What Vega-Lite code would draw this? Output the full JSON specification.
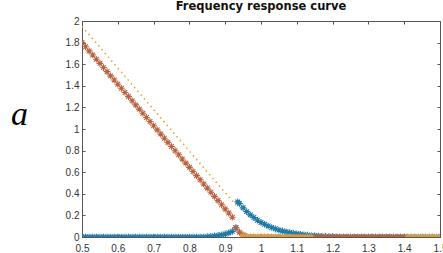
{
  "$schema": "https://vega.github.io/schema/vega-lite/v6.json",
  "autosize": "none",
  "padding": {"left": 82, "top": 21, "right": 3, "bottom": 16},
  "width": 358,
  "height": 216,
  "background": "white",
  "title": {"text": "Frequency response curve", "font": "DejaVu Sans", "fontSize": 11.5, "fontWeight": "bold", "color": "#111", "offset": 4, "anchor": "middle"},
  "config": {
    "view": {"stroke": "#555", "strokeWidth": 1},
    "axis": {"grid": false, "labelFont": "Liberation Sans", "labelFontSize": 10, "labelColor": "#333", "domainColor": "#555", "tickColor": "#555", "tickSize": -3, "labelPadding": 6, "titleFont": "Liberation Serif"}
  },
  "datasets": {
    "pts": [
      {"s":"B","x":0.50,"y":0},{"s":"B","x":0.51,"y":0},{"s":"B","x":0.52,"y":0},{"s":"B","x":0.53,"y":0},{"s":"B","x":0.54,"y":0},{"s":"B","x":0.55,"y":0},{"s":"B","x":0.56,"y":0},{"s":"B","x":0.57,"y":0},{"s":"B","x":0.58,"y":0},{"s":"B","x":0.59,"y":0},
      {"s":"B","x":0.60,"y":0},{"s":"B","x":0.61,"y":0},{"s":"B","x":0.62,"y":0},{"s":"B","x":0.63,"y":0},{"s":"B","x":0.64,"y":0},{"s":"B","x":0.65,"y":0},{"s":"B","x":0.66,"y":0},{"s":"B","x":0.67,"y":0},{"s":"B","x":0.68,"y":0},{"s":"B","x":0.69,"y":0},
      {"s":"B","x":0.70,"y":0},{"s":"B","x":0.71,"y":0},{"s":"B","x":0.72,"y":0},{"s":"B","x":0.73,"y":0},{"s":"B","x":0.74,"y":0},{"s":"B","x":0.75,"y":0},{"s":"B","x":0.76,"y":0},{"s":"B","x":0.77,"y":0},{"s":"B","x":0.78,"y":0},{"s":"B","x":0.79,"y":0},
      {"s":"B","x":0.80,"y":0},{"s":"B","x":0.81,"y":0},{"s":"B","x":0.82,"y":0},{"s":"B","x":0.83,"y":0},{"s":"B","x":0.84,"y":0},{"s":"B","x":0.85,"y":0.003},{"s":"B","x":0.86,"y":0.006},{"s":"B","x":0.87,"y":0.01},{"s":"B","x":0.88,"y":0.015},{"s":"B","x":0.89,"y":0.02},
      {"s":"B","x":0.90,"y":0.028},{"s":"B","x":0.91,"y":0.038},{"s":"B","x":0.92,"y":0.052},{"s":"B","x":0.93,"y":0.085},{"s":"B","x":0.935,"y":0.325},{"s":"B","x":0.94,"y":0.31},{"s":"B","x":0.95,"y":0.27},{"s":"B","x":0.96,"y":0.235},{"s":"B","x":0.97,"y":0.205},{"s":"B","x":0.98,"y":0.18},{"s":"B","x":0.99,"y":0.155},
      {"s":"B","x":1.00,"y":0.135},{"s":"B","x":1.01,"y":0.118},{"s":"B","x":1.02,"y":0.102},{"s":"B","x":1.03,"y":0.088},{"s":"B","x":1.04,"y":0.076},{"s":"B","x":1.05,"y":0.065},{"s":"B","x":1.06,"y":0.056},{"s":"B","x":1.07,"y":0.048},{"s":"B","x":1.08,"y":0.041},{"s":"B","x":1.09,"y":0.035},
      {"s":"B","x":1.10,"y":0.03},{"s":"B","x":1.11,"y":0.025},{"s":"B","x":1.12,"y":0.021},{"s":"B","x":1.13,"y":0.017},{"s":"B","x":1.14,"y":0.014},{"s":"B","x":1.15,"y":0.011},{"s":"B","x":1.16,"y":0.009},{"s":"B","x":1.17,"y":0.007},{"s":"B","x":1.18,"y":0.005},{"s":"B","x":1.19,"y":0.004},
      {"s":"B","x":1.20,"y":0.003},{"s":"B","x":1.21,"y":0},{"s":"B","x":1.22,"y":0},{"s":"B","x":1.23,"y":0},{"s":"B","x":1.24,"y":0},{"s":"B","x":1.25,"y":0},{"s":"B","x":1.26,"y":0},{"s":"B","x":1.27,"y":0},{"s":"B","x":1.28,"y":0},{"s":"B","x":1.29,"y":0},
      {"s":"B","x":1.30,"y":0},{"s":"B","x":1.31,"y":0},{"s":"B","x":1.32,"y":0},{"s":"B","x":1.33,"y":0},{"s":"B","x":1.34,"y":0},{"s":"B","x":1.35,"y":0},{"s":"B","x":1.36,"y":0},{"s":"B","x":1.37,"y":0},{"s":"B","x":1.38,"y":0},{"s":"B","x":1.39,"y":0},
      {"s":"B","x":1.40,"y":0},{"s":"B","x":1.41,"y":0},{"s":"B","x":1.42,"y":0},{"s":"B","x":1.43,"y":0},{"s":"B","x":1.44,"y":0},{"s":"B","x":1.45,"y":0},{"s":"B","x":1.46,"y":0},{"s":"B","x":1.47,"y":0},{"s":"B","x":1.48,"y":0},{"s":"B","x":1.49,"y":0},{"s":"B","x":1.50,"y":0},

      {"s":"O","x":0.50,"y":1.800},{"s":"O","x":0.51,"y":1.762},{"s":"O","x":0.52,"y":1.723},{"s":"O","x":0.53,"y":1.685},{"s":"O","x":0.54,"y":1.646},{"s":"O","x":0.55,"y":1.608},{"s":"O","x":0.56,"y":1.569},{"s":"O","x":0.57,"y":1.531},{"s":"O","x":0.58,"y":1.492},{"s":"O","x":0.59,"y":1.454},
      {"s":"O","x":0.60,"y":1.415},{"s":"O","x":0.61,"y":1.377},{"s":"O","x":0.62,"y":1.338},{"s":"O","x":0.63,"y":1.300},{"s":"O","x":0.64,"y":1.261},{"s":"O","x":0.65,"y":1.223},{"s":"O","x":0.66,"y":1.184},{"s":"O","x":0.67,"y":1.146},{"s":"O","x":0.68,"y":1.107},{"s":"O","x":0.69,"y":1.069},
      {"s":"O","x":0.70,"y":1.030},{"s":"O","x":0.71,"y":0.992},{"s":"O","x":0.72,"y":0.953},{"s":"O","x":0.73,"y":0.915},{"s":"O","x":0.74,"y":0.876},{"s":"O","x":0.75,"y":0.838},{"s":"O","x":0.76,"y":0.799},{"s":"O","x":0.77,"y":0.761},{"s":"O","x":0.78,"y":0.722},{"s":"O","x":0.79,"y":0.684},
      {"s":"O","x":0.80,"y":0.645},{"s":"O","x":0.81,"y":0.607},{"s":"O","x":0.82,"y":0.568},{"s":"O","x":0.83,"y":0.530},{"s":"O","x":0.84,"y":0.491},{"s":"O","x":0.85,"y":0.453},{"s":"O","x":0.86,"y":0.414},{"s":"O","x":0.87,"y":0.376},{"s":"O","x":0.88,"y":0.337},{"s":"O","x":0.89,"y":0.299},
      {"s":"O","x":0.90,"y":0.260},{"s":"O","x":0.91,"y":0.222},{"s":"O","x":0.92,"y":0.183},{"s":"O","x":0.93,"y":0.085},{"s":"O","x":0.94,"y":0.045},{"s":"O","x":0.95,"y":0.02},{"s":"O","x":0.96,"y":0.005},{"s":"O","x":0.97,"y":0},{"s":"O","x":0.98,"y":0},{"s":"O","x":0.99,"y":0},
      {"s":"O","x":1.00,"y":0},{"s":"O","x":1.01,"y":0},{"s":"O","x":1.02,"y":0},{"s":"O","x":1.03,"y":0},{"s":"O","x":1.04,"y":0},{"s":"O","x":1.05,"y":0},{"s":"O","x":1.06,"y":0},{"s":"O","x":1.07,"y":0},{"s":"O","x":1.08,"y":0},{"s":"O","x":1.09,"y":0},
      {"s":"O","x":1.10,"y":0},{"s":"O","x":1.11,"y":0},{"s":"O","x":1.12,"y":0},{"s":"O","x":1.13,"y":0},{"s":"O","x":1.14,"y":0},{"s":"O","x":1.15,"y":0},{"s":"O","x":1.16,"y":0},{"s":"O","x":1.17,"y":0},{"s":"O","x":1.18,"y":0},{"s":"O","x":1.19,"y":0},
      {"s":"O","x":1.20,"y":0},{"s":"O","x":1.21,"y":0},{"s":"O","x":1.22,"y":0},{"s":"O","x":1.23,"y":0},{"s":"O","x":1.24,"y":0},{"s":"O","x":1.25,"y":0},{"s":"O","x":1.26,"y":0},{"s":"O","x":1.27,"y":0},{"s":"O","x":1.28,"y":0},{"s":"O","x":1.29,"y":0},
      {"s":"O","x":1.30,"y":0},{"s":"O","x":1.31,"y":0},{"s":"O","x":1.32,"y":0},{"s":"O","x":1.33,"y":0},{"s":"O","x":1.34,"y":0},{"s":"O","x":1.35,"y":0},{"s":"O","x":1.36,"y":0},{"s":"O","x":1.37,"y":0},{"s":"O","x":1.38,"y":0},{"s":"O","x":1.39,"y":0},
      {"s":"O","x":1.40,"y":0},

      {"s":"Y","x":0.95,"y":0.01},{"s":"Y","x":0.96,"y":0},{"s":"Y","x":0.97,"y":0},{"s":"Y","x":0.98,"y":0},{"s":"Y","x":0.99,"y":0},
      {"s":"Y","x":1.00,"y":0},{"s":"Y","x":1.01,"y":0},{"s":"Y","x":1.02,"y":0},{"s":"Y","x":1.03,"y":0},{"s":"Y","x":1.04,"y":0},{"s":"Y","x":1.05,"y":0},{"s":"Y","x":1.06,"y":0},{"s":"Y","x":1.07,"y":0},{"s":"Y","x":1.08,"y":0},{"s":"Y","x":1.09,"y":0},
      {"s":"Y","x":1.10,"y":0},{"s":"Y","x":1.11,"y":0},{"s":"Y","x":1.12,"y":0},{"s":"Y","x":1.13,"y":0},{"s":"Y","x":1.14,"y":0},
      {"s":"Y","x":1.41,"y":0},{"s":"Y","x":1.42,"y":0},{"s":"Y","x":1.43,"y":0},{"s":"Y","x":1.44,"y":0},{"s":"Y","x":1.45,"y":0},{"s":"Y","x":1.46,"y":0},{"s":"Y","x":1.47,"y":0},{"s":"Y","x":1.48,"y":0},{"s":"Y","x":1.49,"y":0},{"s":"Y","x":1.50,"y":0}
    ],
    "ln": [
      {"x":0.50,"y":1.950},{"x":0.60,"y":1.565},{"x":0.70,"y":1.180},{"x":0.80,"y":0.795},{"x":0.90,"y":0.410},{"x":0.93,"y":0.295}
    ]
  },
  "layer": [
    {
      "data": {"name": "ln"},
      "mark": {"type": "line", "color": "#E3A92E", "strokeWidth": 1.6, "strokeDash": [1.5, 3.5], "clip": true},
      "encoding": {
        "x": {"field": "x", "type": "quantitative", "scale": {"domain": [0.5, 1.5], "nice": false}, "axis": {"orient": "top", "labels": false, "title": null, "values": [0.5,0.6,0.7,0.8,0.9,1.0,1.1,1.2,1.3,1.4,1.5], "domain": false}},
        "y": {"field": "y", "type": "quantitative", "scale": {"domain": [0, 2], "nice": false}, "axis": {"orient": "right", "labels": false, "title": null, "values": [0,0.2,0.4,0.6,0.8,1,1.2,1.4,1.6,1.8,2], "domain": false}}
      }
    },
    {
      "data": {"name": "pts"},
      "mark": {"type": "point", "shape": "M-1,0H1M0,-1V1M-0.7,-0.7L0.7,0.7M-0.7,0.7L0.7,-0.7", "filled": false, "size": 45, "strokeWidth": 1.1, "opacity": 1, "clip": true},
      "encoding": {
        "x": {"field": "x", "type": "quantitative", "scale": {"domain": [0.5, 1.5], "nice": false}, "axis": {"orient": "bottom", "title": null, "values": [0.5,0.6,0.7,0.8,0.9,1.0,1.1,1.2,1.3,1.4,1.5], "format": "~g", "labelPadding": 9, "labelFlush": false}},
        "y": {"field": "y", "type": "quantitative", "scale": {"domain": [0, 2], "nice": false}, "axis": {"orient": "left", "values": [0,0.2,0.4,0.6,0.8,1,1.2,1.4,1.6,1.8,2], "format": "~g", "labelPadding": 6, "title": "a", "titleFont": "Liberation Serif", "titleFontStyle": "italic", "titleFontWeight": "normal", "titleFontSize": 34, "titleColor": "#000", "titleAngle": 0, "titleAlign": "center", "titleBaseline": "middle", "titleX": -63, "titleY": 93}},
        "color": {"field": "s", "type": "nominal", "scale": {"domain": ["B","O","Y"], "range": ["#1C78A6","#B8633F","#DB9E3E"]}, "legend": null},
        "order": {"field": "s"}
      }
    }
  ],
  "resolve": {"axis": {"x": "independent", "y": "independent"}}
}
